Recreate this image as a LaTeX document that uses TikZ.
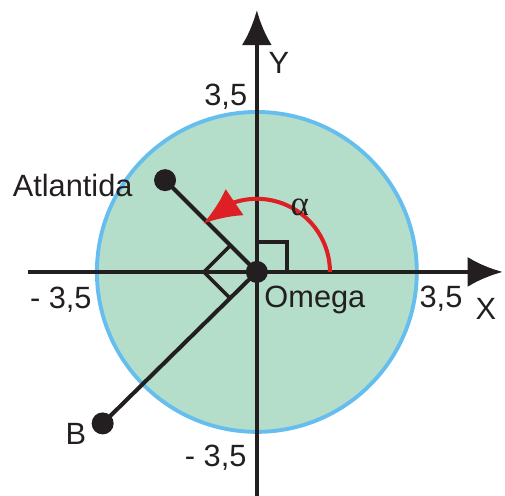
\documentclass[tikz,border=0pt]{standalone}
\usepackage{fontspec}
\setmainfont{Liberation Sans}
\newfontfamily\greekfont{Liberation Serif}
\usepackage{tikz}
\usetikzlibrary{arrows.meta,calc}
\definecolor{discfill}{RGB}{180,222,202}
\definecolor{discrim}{RGB}{102,190,238}
\definecolor{arcred}{RGB}{222,32,36}
\definecolor{ink}{RGB}{35,31,32}
\tikzset{
  % axes and radii
  axis/.style={draw=ink, line width=2.3pt, -{Latex[length=7mm,width=6mm]}},
  radius-line/.style={draw=ink, line width=2.3pt},
  rightangle/.style={draw=ink, line width=2.0pt},
  % points
  dot/.style={circle, fill=ink, inner sep=0pt, minimum size=0.44cm},
  % text
  lbl/.style={font=\fontsize{17.5}{20}\selectfont, text=ink, inner sep=0pt},
  % rotation arrow
  turn/.style={draw=arcred, line width=2.3pt, -{Latex[length=7.6mm,width=6.4mm]}}
}
\begin{document}
\begin{tikzpicture}[x=0.914cm, y=0.914cm]
\useasboundingbox (-5.62,-4.90) rectangle (5.43,5.95);

% ============== disc ==============
\coordinate (O) at (0,0);
\fill[discfill] (O) circle (3.5);
\draw[discrim, line width=2.2pt] (O) circle (3.5);

% ============== axes ==============
\coordinate (xl) at (-5.01,0);
\coordinate (xr) at (5.38,0);
\coordinate (yb) at (0,-4.95);
\coordinate (yt) at (0,5.73);
\draw[axis] (xl) -- (xr);
\draw[axis] (yb) -- (yt);

% ============== points ==============
\coordinate (atl) at (135:2.84);
\coordinate (bp) at (224.5:4.73);
\draw[radius-line] (O) -- (atl);
\draw[radius-line] (O) -- (bp);

% right angle marks
\draw[rightangle] (0.66,0) |- (0,0.66);
\draw[rightangle] (135:0.82) -- ($(135:0.82)+(225:0.82)$) -- (225:0.82);

% rotation angle (head laid along the chord, flatter than the arc)
\coordinate (turntip) at (138:1.58);
\draw[turn] (1.6,0) arc[start angle=0, end angle=108, radius=1.6] -- (turntip);

\node[dot] (atldot) at (atl) {};
\node[dot] (bdot) at (bp) {};
\node[dot] (odot) at (O) {};

% ============== labels ==============
\node[lbl] (atlname) at (-4.03,1.90) {Atlantida};
\node[lbl] (bname) at (-3.96,-3.54) {B};
\node[lbl] (oname) at (1.27,-0.61) {Omega};
\node[lbl] (xname) at (5.01,-0.81) {X};
\node[lbl] (yname) at (0.48,4.57) {Y};
\node[lbl] (xpos) at (4.03,-0.59) {3,5};
\node[lbl] (xneg) at (-4.29,-0.61) {- 3,5};
\node[lbl] (ypos) at (-0.68,3.83) {3,5};
\node[lbl] (yneg) at (-0.90,-4.07) {- 3,5};
\node[lbl, font=\fontsize{20}{22}\selectfont] (alpha) at (0.94,1.42) {\greekfont α};

\end{tikzpicture}
\end{document}
